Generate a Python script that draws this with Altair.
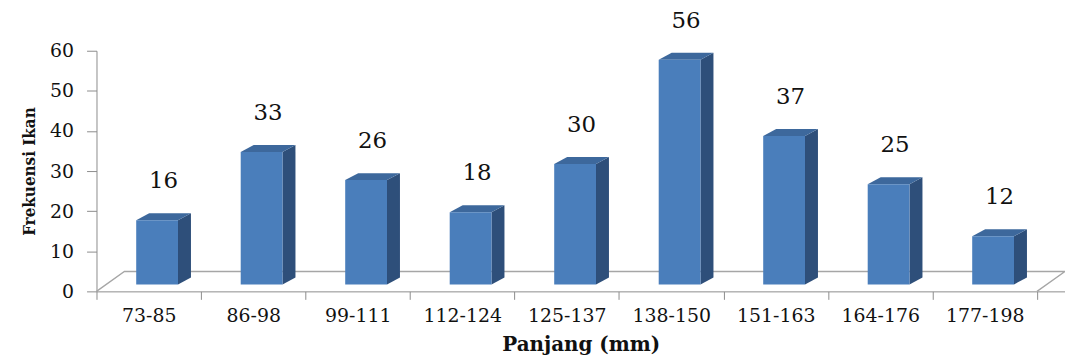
import json
import altair as alt
import pandas as pd

# ---- data ----
categories = ["73-85", "86-98", "99-111", "112-124", "125-137",
              "138-150", "151-163", "164-176", "177-198"]
frequencies = [16, 33, 26, 18, 30, 56, 37, 25, 12]
y_ticks = [0, 10, 20, 30, 40, 50, 60]

# ---- pseudo-3D geometry (style constants, in scale units) ----
BAR_L, BAR_R = 0.38, 0.78      # front face within a category slot
DX, DY = 0.124, 1.74           # depth of a bar (x units, value units)
BASE = 1.74                    # bars stand a little back on the floor
FLOOR_DX, FLOOR_DY = 0.267, 4.96
N = len(categories)

FRONT = "#4A7EBB"
TOP = "#3D689C"
SIDE = "#2E4F7A"
WIDE_SERIF = "DejaVu Serif"
NARROW_SERIF = "DejaVu Serif Condensed, DejaVu Serif"

front_rows, side_rows, top_rows, label_rows = [], [], [], []
for i, (c, v) in enumerate(zip(categories, frequencies)):
    l, r, t = i + BAR_L, i + BAR_R, BASE + v
    front_rows.append({"bar": i, "x": l, "x2": r, "y": BASE, "y2": t})
    side_rows += [
        {"bar": i, "x": r, "y": BASE, "y2": t},
        {"bar": i, "x": r + DX, "y": BASE + DY, "y2": t + DY},
    ]
    top_rows += [
        {"bar": i, "x": l, "y": t, "y2": t},
        {"bar": i, "x": l + DX, "y": t, "y2": t + DY},
        {"bar": i, "x": r, "y": t, "y2": t + DY},
        {"bar": i, "x": r + DX, "y": t + DY, "y2": t + DY},
    ]
    label_rows.append({"x": (l + r + DX) / 2, "y": t, "label": str(v)})

floor_rows = [
    {"o": 0, "x": 0, "y": 0},
    {"o": 1, "x": FLOOR_DX, "y": FLOOR_DY},
    {"o": 2, "x": N + FLOOR_DX, "y": FLOOR_DY},
    {"o": 3, "x": N, "y": 0},
]

W, H = 974, 242
x_scale = alt.Scale(domain=[0, N + FLOOR_DX + 0.001], nice=False, zero=False)
y_scale = alt.Scale(domain=[0, 60], nice=False)

cats_js = json.dumps(categories)
x_axis = alt.Axis(
    values=[k / 2 for k in range(0, 2 * N + 1)],
    labelExpr=f"datum.value % 1 === 0 ? '' : {cats_js}[floor(datum.value)]",
    tickOpacity={"condition": {"test": "datum.value % 1 === 0", "value": 1}, "value": 0},
    tickSize=8, tickColor="#8c8c8c", domainColor="#8c8c8c",
    labelFont=WIDE_SERIF, labelFontSize=19, labelColor="#111", labelPadding=7,
    labelOverlap=False, labelAngle=0, grid=False,
    title="Panjang (mm)", titleFont=WIDE_SERIF, titleFontSize=20, titleFontWeight="bold",
    titleColor="#111", titlePadding=9,
)
y_axis = alt.Axis(
    values=y_ticks, tickSize=10, tickColor="#8c8c8c", domainColor="#8c8c8c",
    labelFont=WIDE_SERIF, labelFontSize=19, labelColor="#111", labelPadding=13,
    grid=False, title="Frekuensi Ikan", titleFont=NARROW_SERIF, titleFontSize=17,
    titleFontWeight="bold", titleColor="#111", titlePadding=11,
)

floor = alt.Chart(pd.DataFrame(floor_rows)).mark_line(
    color="#a6a6a6", strokeWidth=1.3
).encode(
    x=alt.X("x:Q", scale=x_scale, axis=x_axis),
    y=alt.Y("y:Q", scale=y_scale, axis=y_axis),
    order="o:Q",
)

front = alt.Chart(pd.DataFrame(front_rows)).mark_rect(color=FRONT).encode(
    x=alt.X("x:Q", scale=x_scale), x2="x2:Q",
    y=alt.Y("y:Q", scale=y_scale), y2="y2:Q",
)

side = alt.Chart(pd.DataFrame(side_rows)).mark_area(color=SIDE, opacity=1).encode(
    x=alt.X("x:Q", scale=x_scale),
    y=alt.Y("y:Q", scale=y_scale), y2="y2:Q",
    detail="bar:N",
)

top = alt.Chart(pd.DataFrame(top_rows)).mark_area(color=TOP, opacity=1).encode(
    x=alt.X("x:Q", scale=x_scale),
    y=alt.Y("y:Q", scale=y_scale), y2="y2:Q",
    detail="bar:N",
)

labels = alt.Chart(pd.DataFrame(label_rows)).mark_text(
    font=WIDE_SERIF, fontSize=23, color="#111", dy=-39, baseline="middle"
).encode(
    x=alt.X("x:Q", scale=x_scale),
    y=alt.Y("y:Q", scale=y_scale),
    text="label:N",
)

chart = alt.layer(floor, side, top, front, labels).properties(
    width=W, height=H,
    autosize=alt.AutoSizeParams(type="none"),
    padding={"left": 89, "top": 42, "right": 0, "bottom": 63},
    background="white",
).configure_view(stroke=None)

chart.save("out.html", embed_options={"renderer": "svg", "actions": False})
